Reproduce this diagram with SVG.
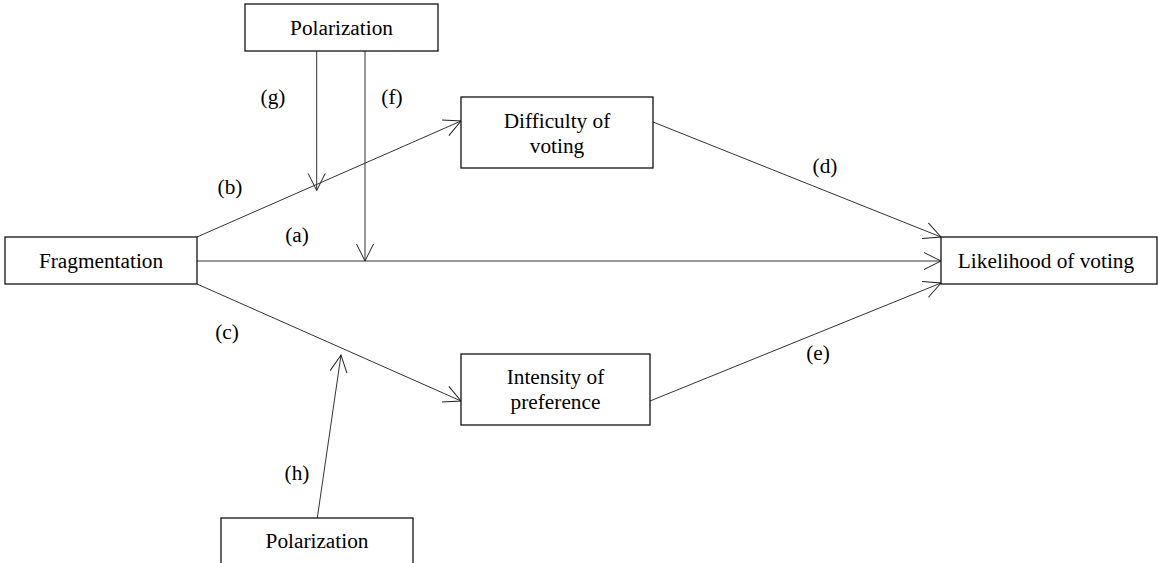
<svg xmlns="http://www.w3.org/2000/svg" width="1158" height="563" viewBox="0 0 1158 563">
<defs>
<marker id="arr" markerUnits="userSpaceOnUse" markerWidth="24" markerHeight="24" viewBox="-20 -12 24 24" refX="0" refY="0" orient="auto">
<path d="M-17,-8.5 L0,0 L-17,8.5" fill="none" stroke="#222" stroke-width="1"/>
</marker>
</defs>
<style>
.box{fill:#fff;stroke:#111;stroke-width:1.3}
.t{font-size:21.3px;fill:#000;text-anchor:middle}
.c{stroke:#333;stroke-width:1;fill:none;marker-end:url(#arr)}
</style>
<rect width="1158" height="563" fill="#fff"/>
<g font-family="Liberation Serif, Times New Roman, serif">
<g id="connectors">
<line class="c" x1="197" y1="237" x2="461" y2="121"/>
<line class="c" x1="197" y1="261" x2="941" y2="261"/>
<line class="c" x1="197" y1="284" x2="461" y2="401"/>
<line class="c" x1="653" y1="122" x2="941" y2="237"/>
<line class="c" x1="650" y1="401" x2="941" y2="283"/>
<line class="c" x1="316.7" y1="51" x2="316.7" y2="190.5"/>
<line class="c" x1="365" y1="51" x2="365" y2="261"/>
<line class="c" x1="317.3" y1="518" x2="341" y2="355"/>
<g class="t">
<text x="273" y="104">(g)</text>
<text x="392" y="104">(f)</text>
<text x="230" y="194">(b)</text>
<text x="297" y="242">(a)</text>
<text x="227" y="339">(c)</text>
<text x="825" y="173">(d)</text>
<text x="818" y="360">(e)</text>
<text x="297" y="480">(h)</text>
</g>
</g>
<g id="polarization-top">
<rect class="box" x="245" y="4" width="193" height="47"/>
<text class="t" x="341.5" y="34.5">Polarization</text>
</g>
<g id="fragmentation">
<rect class="box" x="5" y="237" width="192" height="47"/>
<text class="t" x="101" y="267.5">Fragmentation</text>
</g>
<g id="difficulty">
<rect class="box" x="461" y="97" width="192" height="71"/>
<text class="t" x="557" y="127.5">Difficulty of</text>
<text class="t" x="557" y="152.5">voting</text>
</g>
<g id="intensity">
<rect class="box" x="461" y="354" width="189" height="71"/>
<text class="t" x="555.5" y="384">Intensity of</text>
<text class="t" x="555.5" y="408.5">preference</text>
</g>
<g id="likelihood">
<rect class="box" x="941" y="237" width="216" height="47"/>
<text class="t" x="1046" y="267.5">Likelihood of voting</text>
</g>
<g id="polarization-bottom">
<rect class="box" x="221" y="518" width="192" height="47"/>
<text class="t" x="317" y="548">Polarization</text>
</g>
</g>
</svg>
